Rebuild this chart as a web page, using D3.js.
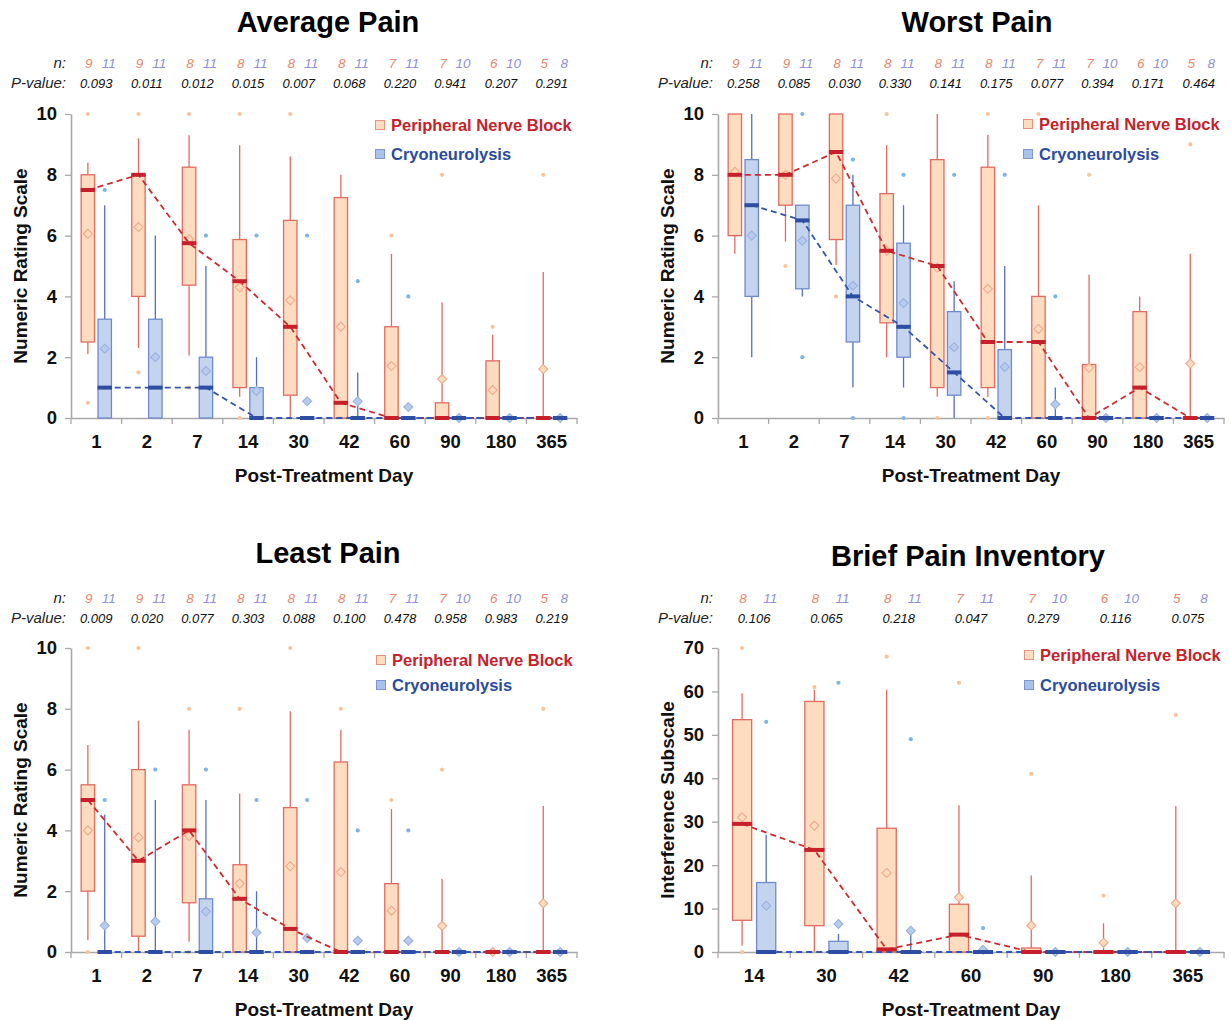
<!DOCTYPE html>
<html><head><meta charset="utf-8">
<script src="https://cdn.jsdelivr.net/npm/d3@7"></script>
<style>body{margin:0;background:#fff} svg{font-family:"Liberation Sans",Arial,sans-serif}</style>
</head><body><svg id="c" width="1231" height="1020"></svg>
<script>
// ---------- DATA ----------
const painDays = ["1","2","7","14","30","42","60","90","180","365"];
const bpiDays = ["14","30","42","60","90","180","365"];
const painTicks = [0,2,4,6,8,10];
const bpiTicks = [0,10,20,30,40,50,60,70];
const seriesNames = ["Peripheral Nerve Block","Cryoneurolysis"];

// stats per day: [lower whisker, Q1, median, Q3, upper whisker, mean]
// Average Pain
const avgNPnb = [9,9,8,8,8,8,7,7,6,5];
const avgNCryo = [11,11,11,11,11,11,11,10,10,8];
const avgP = ["0.093","0.011","0.012","0.015","0.007","0.068","0.220","0.941","0.207","0.291"];
const avgPnb = [[2.1,2.5,7.5,8.0,8.4,6.06],[2.3,4.0,8.0,8.0,9.2,6.28],[2.05,4.37,5.75,8.25,9.3,5.88],[0.7,1.0,4.5,5.87,8.97,4.3],[0,0.75,3.0,6.5,8.6,3.87],[0,0,0.5,7.25,8.0,3.0],[0,0,0,3.0,5.4,1.71],[0,0,0,0.5,3.8,1.28],[0,0,0,1.88,2.75,0.92],[0,0,0,0,4.8,1.61]];
const avgPnbOut = [[10,0.5],[10,1.5],[10,1.0],[10,0],[10],[],[6],[8],[3],[8]];
const avgCryo = [[0,0,1.0,3.25,7.0,2.28],[0,0,1.0,3.25,6.0,2.0],[0,0,1.0,2.0,5.0,1.55],[0,0,0,1.0,2.0,0.89],[0,0,0,0,0,0.55],[0,0,0,0,1.5,0.55],[0,0,0,0,0,0.36],[0,0,0,0,0,0],[0,0,0,0,0,0],[0,0,0,0,0,0]];
const avgCryoOut = [[7.5],[],[6],[6],[6],[4.5],[4],[],[],[]];

// Worst Pain
const worstNPnb = [9,9,8,8,8,8,7,7,6,5];
const worstNCryo = [11,11,11,11,11,11,11,10,10,8];
const worstP = ["0.258","0.085","0.030","0.330","0.141","0.175","0.077","0.394","0.171","0.464"];
const worstPnb = [[5.4,6.0,8.0,10,10,8.1],[5.8,7.0,8.0,10,10,8.0],[5.03,5.87,8.75,10,10,7.88],[2.0,3.13,5.5,7.38,8.97,5.5],[0.7,1.0,5.0,8.5,10,4.95],[0.69,1.0,2.5,8.25,9.32,4.25],[0,0,2.5,4.0,7.0,2.93],[0,0,0,1.76,4.71,1.65],[0,0,1.0,3.5,4.0,1.67],[0,0,0,0,5.4,1.79]];
const worstPnbOut = [[],[5.0],[4.0],[10],[0],[10,0],[10],[8],[],[9]];
const worstCryo = [[2.0,4.0,7.0,8.5,10,6.0],[4.0,4.25,6.5,7.0,7.0,5.83],[1.0,2.5,4.0,7.0,8.0,4.35],[1.0,2.0,3.0,5.75,7.0,3.78],[0,0.75,1.5,3.5,4.5,2.33],[0,0,0,2.25,5.0,1.68],[0,0,0,0,1.0,0.45],[0,0,0,0,0,0],[0,0,0,0,0,0],[0,0,0,0,0,0]];
const worstCryoOut = [[],[10,2.0],[8.5,0],[8,0],[8],[8],[4],[],[],[]];

// Least Pain
const leastNPnb = [9,9,8,8,8,8,7,7,6,5];
const leastNCryo = [11,11,11,11,11,11,11,10,10,8];
const leastP = ["0.009","0.020","0.077","0.303","0.088","0.100","0.478","0.958","0.983","0.219"];
const leastPnb = [[0.39,2.0,5.0,5.5,6.81,4.0],[0,0.52,3.0,6.0,7.61,3.77],[0.34,1.62,4.0,5.5,7.31,3.82],[0,0,1.75,2.87,5.21,2.25],[0,0,0.76,4.75,7.92,2.82],[0,0,0,6.25,7.31,2.63],[0,0,0,2.25,4.7,1.36],[0,0,0,0,2.41,0.86],[0,0,0,0,0,0],[0,0,0,0,4.8,1.6]];
const leastPnbOut = [[10,0],[10],[8,0],[8],[10],[8],[5],[6],[],[8]];
const leastCryo = [[0,0,0,0,4.52,0.87],[0,0,0,0,5.0,1.0],[0,0,0,1.75,5.0,1.33],[0,0,0,0,2.0,0.64],[0,0,0,0,0,0.46],[0,0,0,0,0,0.37],[0,0,0,0,0,0.37],[0,0,0,0,0,0],[0,0,0,0,0,0],[0,0,0,0,0,0]];
const leastCryoOut = [[5],[6],[6],[5],[5],[4],[4],[],[],[]];

// Brief Pain Inventory (Interference Subscale)
const bpiNPnb = [8,8,8,7,7,6,5];
const bpiNCryo = [11,11,11,11,10,10,8];
const bpiP = ["0.106","0.065","0.218","0.047","0.279","0.116","0.075"];
const bpiPnb = [[1.46,7.3,29.5,53.5,59.6,31.0],[0,6.06,23.5,57.7,60.4,29.1],[0,0,0.6,28.5,60.4,18.2],[0,0,4.0,11.0,33.8,12.6],[0,0,0,0.92,17.6,6.1],[0,0,0,0,6.6,2.15],[0,0,0,0,33.6,11.2]];
const bpiPnbOut = [[70,0],[61],[68],[62],[41],[13],[54.6]];
const bpiCryo = [[0,0,0,16.0,27.0,10.67],[0,0,0,2.46,4.14,6.45],[0,0,0,0,4.76,4.9],[0,0,0,0,0,0.5],[0,0,0,0,0,0],[0,0,0,0,0,0],[0,0,0,0,0,0]];
const bpiCryoOut = [[53],[62],[49],[5.5],[],[],[]];

// ---------- STYLE / LAYOUT ----------
const C = {
  pnb: {fill:"#fddcc0", stroke:"#e26a5f", whisk:"#e26a5f", med:"#c8202a", out:"#f7c49c", dFill:"#fddcc0", dStroke:"#f0a988", line:"#cf2a2e", nCol:"#e8876b", leg:"#c4232b", legFill:"#fddcc0", legStroke:"#e8937f"},
  cryo:{fill:"#c4d4ee", stroke:"#6f8bcd", whisk:"#5570c0", med:"#2d4ea3", out:"#7eb4e6", dFill:"#b9cbed", dStroke:"#9ab2e1", line:"#3556b0", nCol:"#8f90d6", leg:"#2b4ba0", legFill:"#a9c2ea", legStroke:"#7d97d3"}
};

const panels = [
  {title:"Average Pain", cats:painDays, ticks:painTicks, ymax:10, ylabel:"Numeric Rating Scale",
   nP:avgNPnb, nC:avgNCryo, p:avgP, pnb:avgPnb, pnbOut:avgPnbOut, cryo:avgCryo, cryoOut:avgCryoOut,
   x0:71, x1:577, yTop:114, yBot:418, titleY:32, titleDx:4, nY:68, pY:88, legX:380, legY:[125,154]},
  {title:"Worst Pain", cats:painDays, ticks:painTicks, ymax:10, ylabel:"Numeric Rating Scale",
   nP:worstNPnb, nC:worstNCryo, p:worstP, pnb:worstPnb, pnbOut:worstPnbOut, cryo:worstCryo, cryoOut:worstCryoOut,
   x0:718, x1:1224, yTop:114, yBot:418, titleY:32, titleDx:6, nY:68, pY:88, legX:1028, legY:[124,154]},
  {title:"Least Pain", cats:painDays, ticks:painTicks, ymax:10, ylabel:"Numeric Rating Scale",
   nP:leastNPnb, nC:leastNCryo, p:leastP, pnb:leastPnb, pnbOut:leastPnbOut, cryo:leastCryo, cryoOut:leastCryoOut,
   x0:71, x1:577, yTop:648, yBot:952, titleY:563, titleDx:4, nY:603, pY:623, legX:381, legY:[660,685]},
  {title:"Brief Pain Inventory", cats:bpiDays, ticks:bpiTicks, ymax:70, ylabel:"Interference Subscale",
   nP:bpiNPnb, nC:bpiNCryo, p:bpiP, pnb:bpiPnb, pnbOut:bpiPnbOut, cryo:bpiCryo, cryoOut:bpiCryoOut,
   x0:718, x1:1224, yTop:648, yBot:952, titleY:566, titleDx:-3, nY:603, pY:623, legX:1029, legY:[655,685]}
];

const svg = d3.select("#c");

function drawPanel(cfg){
  const g = svg.append("g");
  const x = d3.scaleBand().domain(cfg.cats).range([cfg.x0, cfg.x1]);
  const y = d3.scaleLinear().domain([0, cfg.ymax]).range([cfg.yBot, cfg.yTop]);
  const sub = d3.scalePoint().domain(["pnb","cryo"]).range([0, x.bandwidth()]).padding(1);
  const bw = x.bandwidth()*0.265;
  const mid = (cfg.x0+cfg.x1)/2;

  // title
  g.append("text").attr("x", mid+cfg.titleDx).attr("y", cfg.titleY).attr("text-anchor","middle")
    .attr("font-size",29).attr("font-weight","bold").attr("fill","#000").text(cfg.title);

  // n and p rows
  g.append("text").attr("x", cfg.x0-5).attr("y", cfg.nY).attr("text-anchor","end")
    .attr("font-size",15).attr("font-style","italic").attr("fill","#222").text("n:");
  g.append("text").attr("x", cfg.x0-5).attr("y", cfg.pY).attr("text-anchor","end")
    .attr("font-size",15).attr("font-style","italic").attr("fill","#222").text("P-value:");
  cfg.cats.forEach((c,i)=>{
    g.append("text").attr("x", x(c)+sub("pnb")+1).attr("y", cfg.nY).attr("text-anchor","middle")
      .attr("font-size",13.5).attr("font-style","italic").attr("fill",C.pnb.nCol).text(cfg.nP[i]);
    g.append("text").attr("x", x(c)+sub("cryo")+4).attr("y", cfg.nY).attr("text-anchor","middle")
      .attr("font-size",13.5).attr("font-style","italic").attr("fill",C.cryo.nCol).text(cfg.nC[i]);
    g.append("text").attr("x", x(c)+x.bandwidth()/2).attr("y", cfg.pY).attr("text-anchor","middle")
      .attr("font-size",13).attr("font-style","italic").attr("fill","#111").text(cfg.p[i]);
  });

  // axes
  const ya = g.append("g").attr("transform",`translate(${cfg.x0},0)`)
    .call(d3.axisLeft(y).tickValues(cfg.ticks).tickSize(6).tickSizeOuter(0).tickPadding(8));
  ya.selectAll("text").attr("font-size",18.5).attr("font-weight","bold").attr("fill","#111");
  const xa = g.append("g").attr("transform",`translate(0,${cfg.yBot})`)
    .call(d3.axisBottom(x).tickSize(0).tickSizeOuter(0).tickPadding(17));
  xa.selectAll("text").attr("font-size",18.5).attr("font-weight","bold").attr("fill","#111");
  [ya,xa].forEach(a=>{a.attr("font-family",null).attr("font-size",null);
    a.select(".domain").attr("stroke","#a8a8a8").attr("stroke-width",1.6);
    a.selectAll(".tick line").attr("stroke","#a8a8a8").attr("stroke-width",1.3);});
  const bounds = cfg.cats.map(c=>x(c)).concat([cfg.x1]);
  g.selectAll(".bt").data(bounds).join("line").attr("x1",d=>d).attr("x2",d=>d)
    .attr("y1",cfg.yBot).attr("y2",cfg.yBot+6).attr("stroke","#a8a8a8").attr("stroke-width",1.3);

  // axis titles
  g.append("text").attr("x", mid).attr("y", cfg.yBot+64).attr("text-anchor","middle")
    .attr("font-size",19).attr("font-weight","bold").attr("fill","#111").text("Post-Treatment Day");
  g.append("text").attr("transform",`translate(${cfg.x0-51},${(cfg.yTop+cfg.yBot)/2}) rotate(-90)`)
    .attr("text-anchor","middle").attr("dy","0.35em")
    .attr("font-size",19).attr("font-weight","bold").attr("fill","#111").text(cfg.ylabel);

  // series
  const series = [["pnb", cfg.pnb, cfg.pnbOut], ["cryo", cfg.cryo, cfg.cryoOut]];
  series.forEach(([key, stats, outs])=>{
    const col = C[key];
    const cx = i => x(cfg.cats[i]) + sub(key);
    const sg = g.append("g");
    stats.forEach((s,i)=>{
      const [lo,q1,md,q3,hi,mn] = s;
      if (hi>q3) sg.append("line").attr("x1",cx(i)).attr("x2",cx(i)).attr("y1",y(q3)).attr("y2",y(hi)).attr("stroke",col.whisk).attr("stroke-width",1.3);
      if (lo<q1) sg.append("line").attr("x1",cx(i)).attr("x2",cx(i)).attr("y1",y(q1)).attr("y2",y(lo)).attr("stroke",col.whisk).attr("stroke-width",1.3);
      sg.append("rect").attr("x",cx(i)-bw/2).attr("y",y(q3)).attr("width",bw).attr("height",Math.max(0,y(q1)-y(q3)))
        .attr("fill",col.fill).attr("stroke",col.stroke).attr("stroke-width",1.3);
      outs[i].forEach(v=>{
        sg.append("circle").attr("cx",cx(i)).attr("cy",y(v)).attr("r",2.1).attr("fill",col.out);
      });
      const r = 4.5, my = y(mn), mx = cx(i);
      sg.append("path").attr("d",`M${mx},${my-r}L${mx+r},${my}L${mx},${my+r}L${mx-r},${my}Z`)
        .attr("fill",col.dFill).attr("stroke",col.dStroke).attr("stroke-width",1.1);
    });
  });
  // median connecting lines
  series.forEach(([key, stats])=>{
    const col = C[key];
    const line = d3.line().x((s,i)=>x(cfg.cats[i])+sub(key)).y(s=>y(s[2]));
    g.append("path").attr("d",line(stats)).attr("fill","none").attr("stroke",col.line)
      .attr("stroke-width",1.8).attr("stroke-dasharray","6,4");
  });
  // median bars
  series.forEach(([key, stats])=>{
    const col = C[key];
    stats.forEach((s,i)=>{
      const mx = x(cfg.cats[i])+sub(key);
      g.append("rect").attr("x",mx-bw/2-0.5).attr("y",y(s[2])-2).attr("width",bw+1).attr("height",4).attr("fill",col.med);
    });
  });

  // legend
  [["pnb",0],["cryo",1]].forEach(([key,k])=>{
    const col = C[key], ly = cfg.legY[k];
    g.append("rect").attr("x",cfg.legX-4.5).attr("y",ly-4.5).attr("width",9).attr("height",9)
      .attr("fill",col.legFill).attr("stroke",col.legStroke).attr("stroke-width",1);
    g.append("text").attr("x",cfg.legX+11).attr("y",ly+6).attr("font-size",16.5).attr("font-weight","bold")
      .attr("fill",col.leg).text(seriesNames[k]);
  });
}
panels.forEach(drawPanel);
</script></body></html>
